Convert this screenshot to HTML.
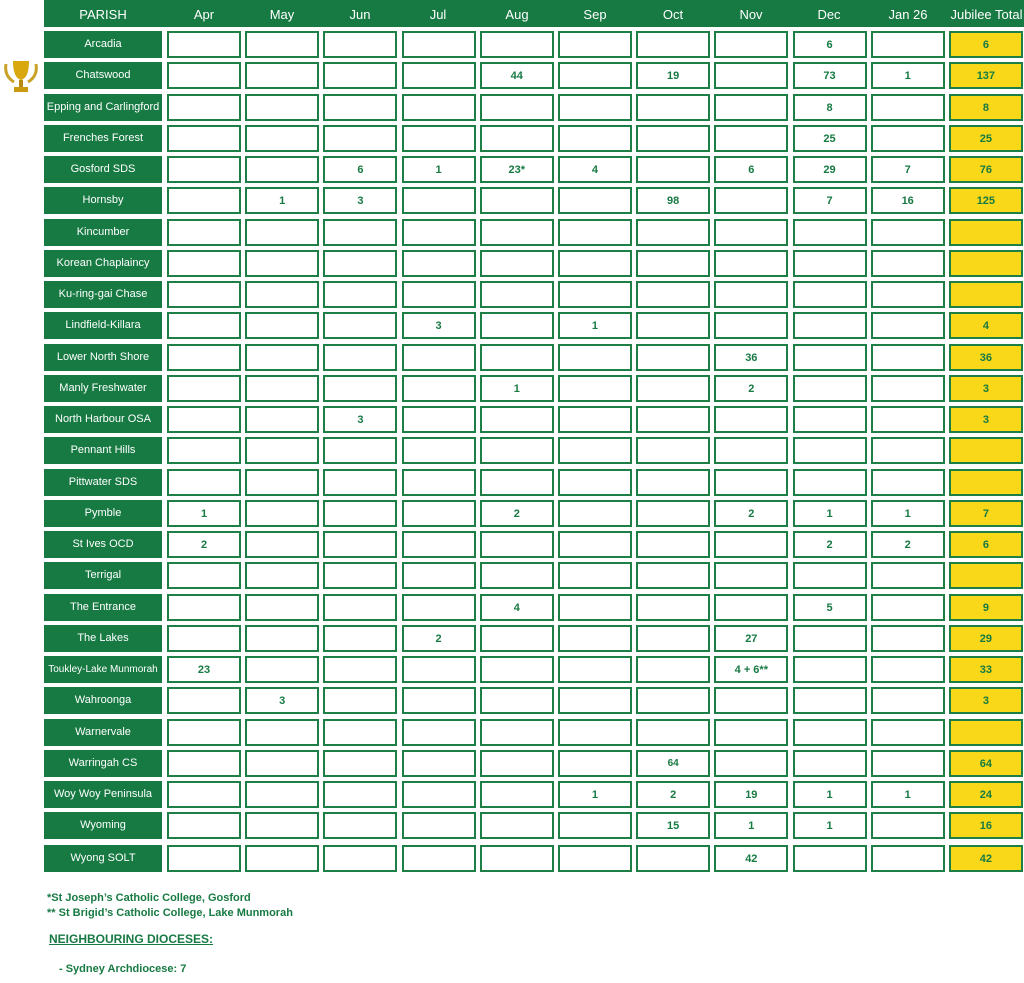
<!DOCTYPE html>
<html><head><meta charset="utf-8"><style>
body{margin:0;width:1024px;height:983px;background:#fff;position:relative;overflow:hidden;font-family:"Liberation Sans",sans-serif}
.hdr{position:absolute;left:44px;top:0;width:980px;height:27px;background:#177a43}
.hdr span{position:absolute;top:0;line-height:30px;color:#fff;font-size:13px;text-align:center}
.row{position:absolute;left:44px;height:27px;display:flex}
.row div{box-sizing:border-box;height:27px;line-height:24px;text-align:center;font-size:11px;font-weight:bold;color:#177a43}
.row .p{width:118px;background:#177a43;color:#fff;font-weight:normal;font-size:11px;margin-right:5px;line-height:27px;white-space:nowrap}
.row .c{width:74px;border:2px solid #1d7f45;margin-right:4.2px;background:#fff}
.row .t{width:74px;border:2px solid #1d7f45;background:#f9d81a}
.fn{position:absolute;color:#177a43;font-weight:bold;font-size:11px}
</style></head><body>
<svg style="position:absolute;left:2px;top:58px" width="38" height="36" viewBox="0 0 38 36">
<path d="M4 6 Q2 18 12 24" stroke="#c9a227" stroke-width="3" fill="none"/>
<path d="M34 6 Q36 18 26 24" stroke="#c9a227" stroke-width="3" fill="none"/>
<path d="M11 3 H27 Q27 20 19 22 Q11 20 11 3Z" fill="#d9a80f"/>
<rect x="17" y="22" width="4" height="7" fill="#b8890c"/>
<rect x="12" y="29" width="14" height="5" fill="#c99a10"/>
</svg>
<div class="hdr">
<span style="left:0;width:118px">PARISH</span>
<span style="left:123px;width:74px">Apr</span>
<span style="left:201px;width:74px">May</span>
<span style="left:279px;width:74px">Jun</span>
<span style="left:357px;width:74px">Jul</span>
<span style="left:436px;width:74px">Aug</span>
<span style="left:514px;width:74px">Sep</span>
<span style="left:592px;width:74px">Oct</span>
<span style="left:670px;width:74px">Nov</span>
<span style="left:748px;width:74px">Dec</span>
<span style="left:827px;width:74px">Jan 26</span>
<span style="left:905px;width:75px">Jubilee Total</span>
</div>
<div class="row" style="top:31px"><div class="p">Arcadia</div><div class="c"></div><div class="c"></div><div class="c"></div><div class="c"></div><div class="c"></div><div class="c"></div><div class="c"></div><div class="c"></div><div class="c">6</div><div class="c"></div><div class="t">6</div></div>
<div class="row" style="top:62px"><div class="p">Chatswood</div><div class="c"></div><div class="c"></div><div class="c"></div><div class="c"></div><div class="c">44</div><div class="c"></div><div class="c">19</div><div class="c"></div><div class="c">73</div><div class="c">1</div><div class="t">137</div></div>
<div class="row" style="top:93.5px"><div class="p">Epping and Carlingford</div><div class="c"></div><div class="c"></div><div class="c"></div><div class="c"></div><div class="c"></div><div class="c"></div><div class="c"></div><div class="c"></div><div class="c">8</div><div class="c"></div><div class="t">8</div></div>
<div class="row" style="top:124.7px"><div class="p">Frenches Forest</div><div class="c"></div><div class="c"></div><div class="c"></div><div class="c"></div><div class="c"></div><div class="c"></div><div class="c"></div><div class="c"></div><div class="c">25</div><div class="c"></div><div class="t">25</div></div>
<div class="row" style="top:156px"><div class="p">Gosford SDS</div><div class="c"></div><div class="c"></div><div class="c">6</div><div class="c">1</div><div class="c">23*</div><div class="c">4</div><div class="c"></div><div class="c">6</div><div class="c">29</div><div class="c">7</div><div class="t">76</div></div>
<div class="row" style="top:187.2px"><div class="p">Hornsby</div><div class="c"></div><div class="c">1</div><div class="c">3</div><div class="c"></div><div class="c"></div><div class="c"></div><div class="c">98</div><div class="c"></div><div class="c">7</div><div class="c">16</div><div class="t">125</div></div>
<div class="row" style="top:218.5px"><div class="p">Kincumber</div><div class="c"></div><div class="c"></div><div class="c"></div><div class="c"></div><div class="c"></div><div class="c"></div><div class="c"></div><div class="c"></div><div class="c"></div><div class="c"></div><div class="t"></div></div>
<div class="row" style="top:249.7px"><div class="p">Korean Chaplaincy</div><div class="c"></div><div class="c"></div><div class="c"></div><div class="c"></div><div class="c"></div><div class="c"></div><div class="c"></div><div class="c"></div><div class="c"></div><div class="c"></div><div class="t"></div></div>
<div class="row" style="top:281px"><div class="p">Ku-ring-gai Chase</div><div class="c"></div><div class="c"></div><div class="c"></div><div class="c"></div><div class="c"></div><div class="c"></div><div class="c"></div><div class="c"></div><div class="c"></div><div class="c"></div><div class="t"></div></div>
<div class="row" style="top:312.2px"><div class="p">Lindfield-Killara</div><div class="c"></div><div class="c"></div><div class="c"></div><div class="c">3</div><div class="c"></div><div class="c">1</div><div class="c"></div><div class="c"></div><div class="c"></div><div class="c"></div><div class="t">4</div></div>
<div class="row" style="top:343.5px"><div class="p">Lower North Shore</div><div class="c"></div><div class="c"></div><div class="c"></div><div class="c"></div><div class="c"></div><div class="c"></div><div class="c"></div><div class="c">36</div><div class="c"></div><div class="c"></div><div class="t">36</div></div>
<div class="row" style="top:374.7px"><div class="p">Manly Freshwater</div><div class="c"></div><div class="c"></div><div class="c"></div><div class="c"></div><div class="c">1</div><div class="c"></div><div class="c"></div><div class="c">2</div><div class="c"></div><div class="c"></div><div class="t">3</div></div>
<div class="row" style="top:406px"><div class="p">North Harbour OSA</div><div class="c"></div><div class="c"></div><div class="c">3</div><div class="c"></div><div class="c"></div><div class="c"></div><div class="c"></div><div class="c"></div><div class="c"></div><div class="c"></div><div class="t">3</div></div>
<div class="row" style="top:437.2px"><div class="p">Pennant Hills</div><div class="c"></div><div class="c"></div><div class="c"></div><div class="c"></div><div class="c"></div><div class="c"></div><div class="c"></div><div class="c"></div><div class="c"></div><div class="c"></div><div class="t"></div></div>
<div class="row" style="top:468.5px"><div class="p">Pittwater SDS</div><div class="c"></div><div class="c"></div><div class="c"></div><div class="c"></div><div class="c"></div><div class="c"></div><div class="c"></div><div class="c"></div><div class="c"></div><div class="c"></div><div class="t"></div></div>
<div class="row" style="top:499.7px"><div class="p">Pymble</div><div class="c">1</div><div class="c"></div><div class="c"></div><div class="c"></div><div class="c">2</div><div class="c"></div><div class="c"></div><div class="c">2</div><div class="c">1</div><div class="c">1</div><div class="t">7</div></div>
<div class="row" style="top:531px"><div class="p">St Ives OCD</div><div class="c">2</div><div class="c"></div><div class="c"></div><div class="c"></div><div class="c"></div><div class="c"></div><div class="c"></div><div class="c"></div><div class="c">2</div><div class="c">2</div><div class="t">6</div></div>
<div class="row" style="top:562.2px"><div class="p">Terrigal</div><div class="c"></div><div class="c"></div><div class="c"></div><div class="c"></div><div class="c"></div><div class="c"></div><div class="c"></div><div class="c"></div><div class="c"></div><div class="c"></div><div class="t"></div></div>
<div class="row" style="top:593.5px"><div class="p">The Entrance</div><div class="c"></div><div class="c"></div><div class="c"></div><div class="c"></div><div class="c">4</div><div class="c"></div><div class="c"></div><div class="c"></div><div class="c">5</div><div class="c"></div><div class="t">9</div></div>
<div class="row" style="top:624.7px"><div class="p">The Lakes</div><div class="c"></div><div class="c"></div><div class="c"></div><div class="c">2</div><div class="c"></div><div class="c"></div><div class="c"></div><div class="c">27</div><div class="c"></div><div class="c"></div><div class="t">29</div></div>
<div class="row" style="top:656px"><div class="p" style="font-size:10px">Toukley-Lake Munmorah</div><div class="c">23</div><div class="c"></div><div class="c"></div><div class="c"></div><div class="c"></div><div class="c"></div><div class="c"></div><div class="c">4 + 6**</div><div class="c"></div><div class="c"></div><div class="t">33</div></div>
<div class="row" style="top:687.2px"><div class="p">Wahroonga</div><div class="c"></div><div class="c">3</div><div class="c"></div><div class="c"></div><div class="c"></div><div class="c"></div><div class="c"></div><div class="c"></div><div class="c"></div><div class="c"></div><div class="t">3</div></div>
<div class="row" style="top:718.5px"><div class="p">Warnervale</div><div class="c"></div><div class="c"></div><div class="c"></div><div class="c"></div><div class="c"></div><div class="c"></div><div class="c"></div><div class="c"></div><div class="c"></div><div class="c"></div><div class="t"></div></div>
<div class="row" style="top:749.7px"><div class="p">Warringah CS</div><div class="c"></div><div class="c"></div><div class="c"></div><div class="c"></div><div class="c"></div><div class="c"></div><div class="c" style="font-size:10px">64</div><div class="c"></div><div class="c"></div><div class="c"></div><div class="t">64</div></div>
<div class="row" style="top:781px"><div class="p">Woy Woy Peninsula</div><div class="c"></div><div class="c"></div><div class="c"></div><div class="c"></div><div class="c"></div><div class="c">1</div><div class="c">2</div><div class="c">19</div><div class="c">1</div><div class="c">1</div><div class="t">24</div></div>
<div class="row" style="top:812.2px"><div class="p">Wyoming</div><div class="c"></div><div class="c"></div><div class="c"></div><div class="c"></div><div class="c"></div><div class="c"></div><div class="c">15</div><div class="c">1</div><div class="c">1</div><div class="c"></div><div class="t">16</div></div>
<div class="row" style="top:844.5px"><div class="p">Wyong SOLT</div><div class="c"></div><div class="c"></div><div class="c"></div><div class="c"></div><div class="c"></div><div class="c"></div><div class="c"></div><div class="c">42</div><div class="c"></div><div class="c"></div><div class="t">42</div></div>
<div class="fn" style="left:47px;top:892px">*St Joseph’s Catholic College, Gosford</div>
<div class="fn" style="left:47px;top:907px">** St Brigid’s Catholic College, Lake Munmorah</div>
<div class="fn" style="left:49px;top:932px;font-size:12px;text-decoration:underline">NEIGHBOURING DIOCESES:</div>
<div class="fn" style="left:59px;top:963px">- Sydney Archdiocese: 7</div>
</body></html>
